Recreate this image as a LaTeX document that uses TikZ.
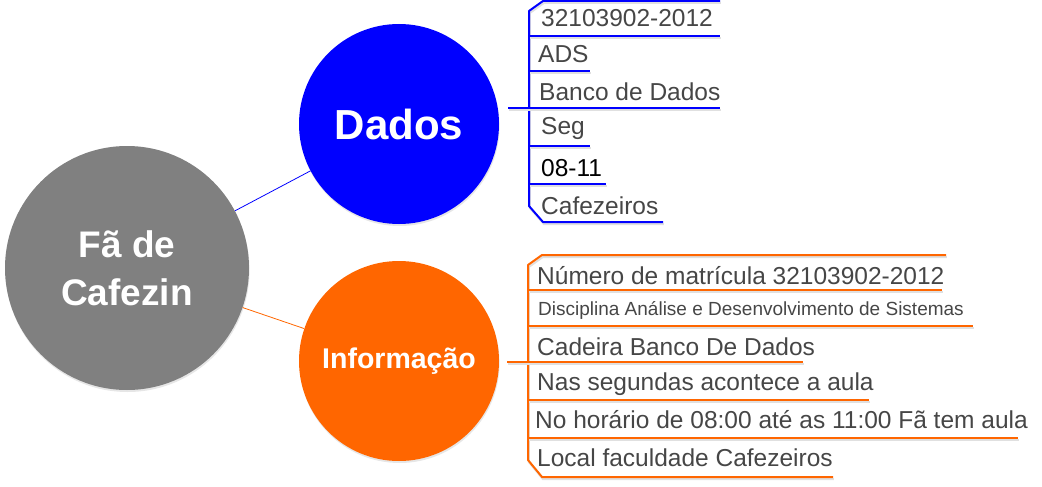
\documentclass[tikz,border=0pt]{standalone}
\usepackage{fontspec}
\setmainfont{Liberation Sans}
\usetikzlibrary{positioning, shadows}
\definecolor{dadosblue}{RGB}{0,0,255}
\definecolor{infoorange}{RGB}{255,102,0}
\definecolor{fagray}{RGB}{128,128,128}
\definecolor{itemgray}{RGB}{70,70,70}
\tikzstyle{topic}=[circle, inner sep=0pt, minimum size=200pt, text=white, align=center,
  drop shadow={shadow xshift=0.6pt, shadow yshift=-2pt, opacity=0.2}]
\tikzstyle{item}=[anchor=base west, inner sep=0pt, text=itemgray, font=\fontsize{24.5}{24.5}\selectfont]
\tikzstyle{smallitem}=[item, font=\fontsize{19}{19}\selectfont]
\tikzstyle{link}=[line width=0.8pt]
\tikzstyle{bracket}=[line width=2pt, line join=round,
  preaction={draw=black!12, line width=2pt, transform canvas={shift={(0.8pt,-2pt)}}}]

\begin{document}
\begin{tikzpicture}[x=1pt, y=-1pt]
    \useasboundingbox (0,0) rectangle (1042,487);

    % Topics
    \node[topic, fill=fagray, minimum size=244pt, font=\bfseries\fontsize{37}{48}\selectfont] (fa) at (127,268) {Fã de\\Cafezin};
    \node[topic, fill=dadosblue, font=\bfseries\fontsize{42}{42}\selectfont] (dados) at (399,124) {Dados};
    \node[topic, fill=infoorange, font=\bfseries\fontsize{28.5}{28.5}\selectfont] (info) at (399,361) {Informação};

    % Links
    \draw[link, dadosblue] (fa) -- (dados);
    \draw[link, infoorange] (fa) -- (info);

    % Dados items
    \node[item] (matricula) at (541,27) {32103902-2012};
    \node[item] (ads) at (538,63) {ADS};
    \node[item] (banco) at (539,100) {Banco de Dados};
    \node[item] (seg) at (541,135) {Seg};
    \node[item, text=black] (horas) at (541,176) {08-11};
    \node[item] (local) at (541,214) {Cafezeiros};

    % Dados bracket
    \coordinate (dadoshub) at (508,108);
    \draw[bracket, dadosblue] (720,1) -- (543,1) -- (529,11) -- (529,206) -- (543,222) -- (663,222);
    \draw[bracket, dadosblue] (dadoshub) -- (720,108);
    \draw[bracket, dadosblue] (529,36) -- (720,36);
    \draw[bracket, dadosblue] (529,71) -- (590,71);
    \draw[bracket, dadosblue] (529,146) -- (590,146);
    \draw[bracket, dadosblue] (529,184) -- (606,184);

    % Informacao items
    \node[item] (numero) at (537,284) {Número de matrícula 32103902-2012};
    \node[smallitem] (disciplina) at (538,315) {Disciplina Análise e Desenvolvimento de Sistemas};
    \node[item] (cadeira) at (537,355) {Cadeira Banco De Dados};
    \node[item] (segundas) at (537,390) {Nas segundas acontece a aula};
    \node[item] (horario) at (535,428) {No horário de 08:00 até as 11:00 Fã tem aula};
    \node[item] (faculdade) at (537,466) {Local faculdade Cafezeiros};

    % Informacao bracket
    \coordinate (infohub) at (507,362);
    \draw[bracket, infoorange] (946,255) -- (542,255) -- (528,265) -- (528,460) -- (542,477) -- (833,477);
    \draw[bracket, infoorange] (infohub) -- (803,362);
    \draw[bracket, infoorange] (528,290) -- (942,290);
    \draw[bracket, infoorange] (528,326) -- (973,326);
    \draw[bracket, infoorange] (528,400) -- (869,400);
    \draw[bracket, infoorange] (528,438) -- (1018,438);
\end{tikzpicture}
\end{document}
